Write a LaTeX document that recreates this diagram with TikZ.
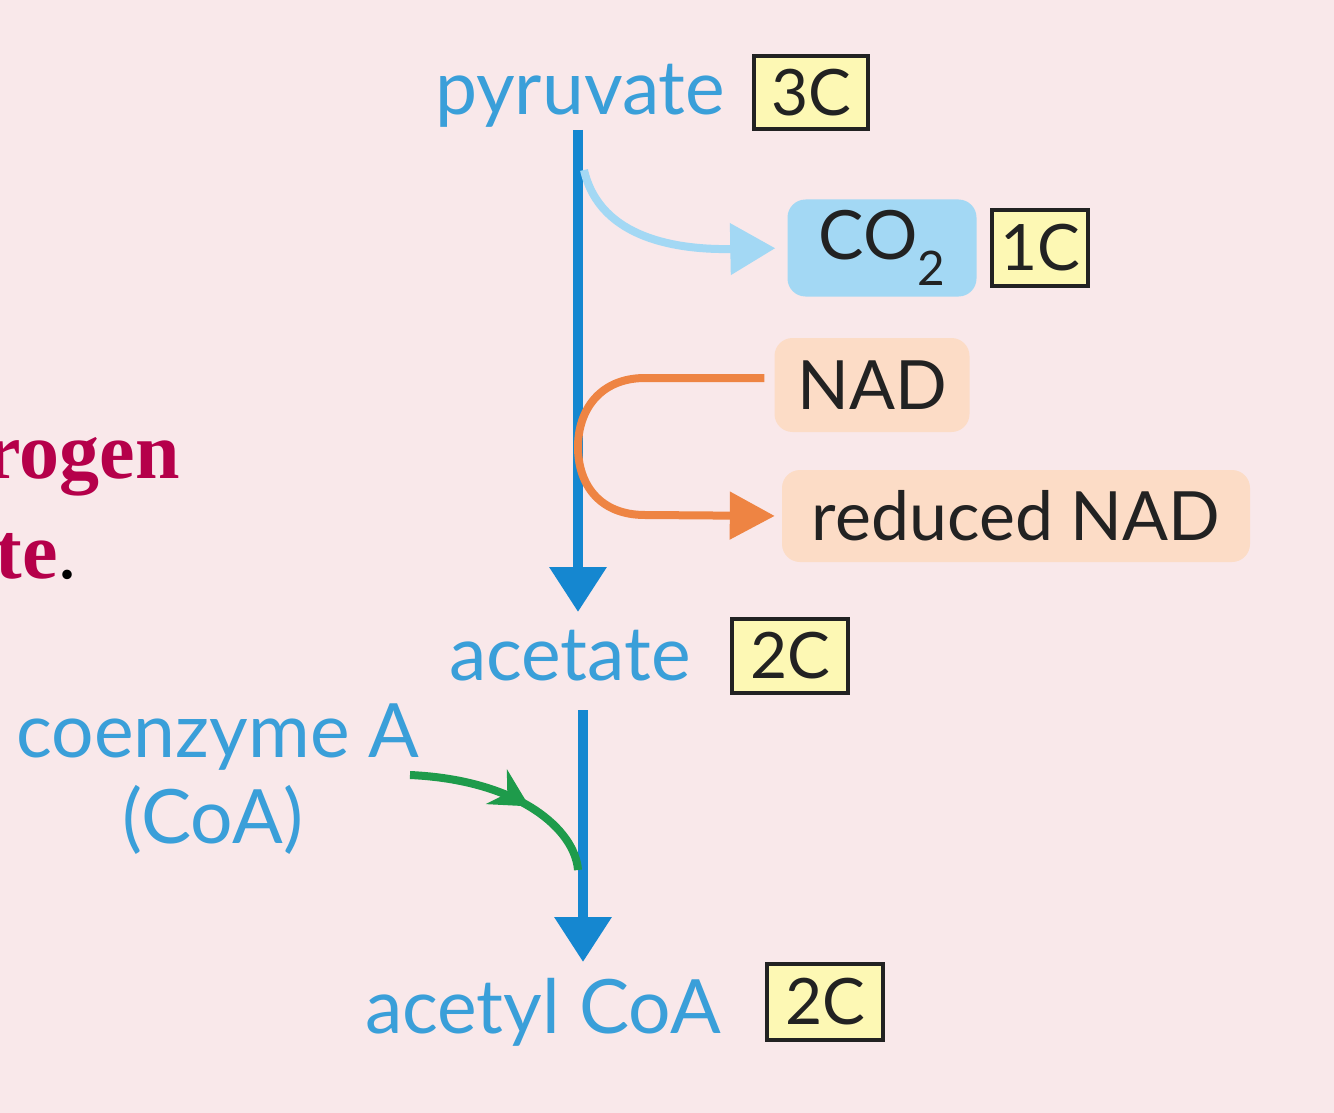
\documentclass[tikz,border=0pt]{standalone}
\usepackage{fontspec}
\setmainfont{Lato}
\newfontfamily\serifgras{Liberation Serif}
\usetikzlibrary{arrows.meta,decorations.markings}
\definecolor{fond}{HTML}{F9E8EA}
\definecolor{bleutexte}{HTML}{3A9FD9}
\definecolor{bleufonce}{HTML}{1587D0}
\definecolor{bleuclair}{HTML}{A3D8F4}
\definecolor{orangefleche}{HTML}{EE8443}
\definecolor{peche}{HTML}{FCDCC6}
\definecolor{vertfleche}{HTML}{1E9B4B}
\definecolor{jaune}{HTML}{FDF8B4}
\definecolor{cramoisi}{HTML}{B5004A}
\definecolor{encre}{HTML}{222222}

\begin{document}
\begin{tikzpicture}[x=1pt,y=-1pt]
\tikzset{molecule/.style={text=bleutexte, anchor=base, inner sep=0pt, font=\fontsize{75}{80}\selectfont},
  carbone/.style={draw=encre, line width=4pt, fill=jaune, inner sep=0pt, text=encre, font=\fontsize{64}{70}\selectfont},
  pastille/.style={rounded corners=18pt, inner sep=0pt, text=encre, font=\fontsize{68}{72}\selectfont},
  tige/.style={bleufonce, line width=10pt, -{Triangle[width=55pt, length=45pt]}}}
\useasboundingbox[fill=fond] (0,0) rectangle (1334,1113);
% texte coupe a gauche
\node[anchor=base east, inner sep=0pt, text=cramoisi, font=\serifgras\bfseries\fontsize{80}{86}\selectfont] (hydro) at (180,478) {rogen};
\node[anchor=base east, inner sep=0pt, font=\serifgras\fontsize{80}{86}\selectfont] (ate) at (78,578) {\textcolor{cramoisi}{\bfseries te}.};
% molecules
\node[molecule] (pyr) at (580,115) {pyruvate};
\node[molecule] (acet) at (570,680) {acetate};
\node[molecule] (acoa) at (543,1033) {acetyl CoA};
\node[molecule] (coa) at (218,757) {coenzyme A};
\node[molecule] (coab) at (213,843) {(CoA)};
% nombres de carbones
\node[carbone, minimum width=114pt, minimum height=73pt] (c3) at (811,93) {3C};
\node[carbone, minimum width=96pt, minimum height=76pt] (c1) at (1040,248) {1C};
\node[carbone, minimum width=116pt, minimum height=74pt] (c2a) at (790,656) {2C};
\node[carbone, minimum width=116pt, minimum height=76pt] (c2b) at (825,1002) {2C};
% produits
\node[pastille, fill=bleuclair, minimum width=189pt, minimum height=97pt] (co2) at (882,248) {CO\textsubscript{2}};
\node[pastille, fill=peche, minimum width=195pt, minimum height=94pt] (nad) at (872,385) {NAD};
\node[pastille, fill=peche, minimum width=468pt, minimum height=92pt] (nadh) at (1016,516) {reduced NAD};
% fleches
\coordinate (h1) at (578,130);
\coordinate (b1) at (578,612);
\coordinate (h2) at (583,710);
\coordinate (b2) at (583,962);
\coordinate (coude) at (645,378);
\draw[tige] (h1) -- (b1);
\draw[tige] (h2) -- (b2);
\draw[bleuclair, line width=8pt, shorten >=12pt, -{Triangle[width=50pt, length=45pt]}] (584,170) .. controls (600,240) and (680,250) .. (co2.west);
\draw[orangefleche, line width=8pt, shorten >=7pt, -{Triangle[width=46pt, length=45pt]}] ([xshift=-10pt]nad.west |- coude) -- (coude) .. controls (600,378) and (578,410) .. (578,447) .. controls (578,485) and (600,515) .. (645,515) -- (nadh.west);
\draw[vertfleche, line width=8pt, decoration={markings, mark=at position 0.6 with {\arrow{Stealth[width=40pt, length=38pt]}}}, postaction={decorate}] (410,775) .. controls (520,780) and (575,830) .. (578,870);
\end{tikzpicture}
\end{document}
